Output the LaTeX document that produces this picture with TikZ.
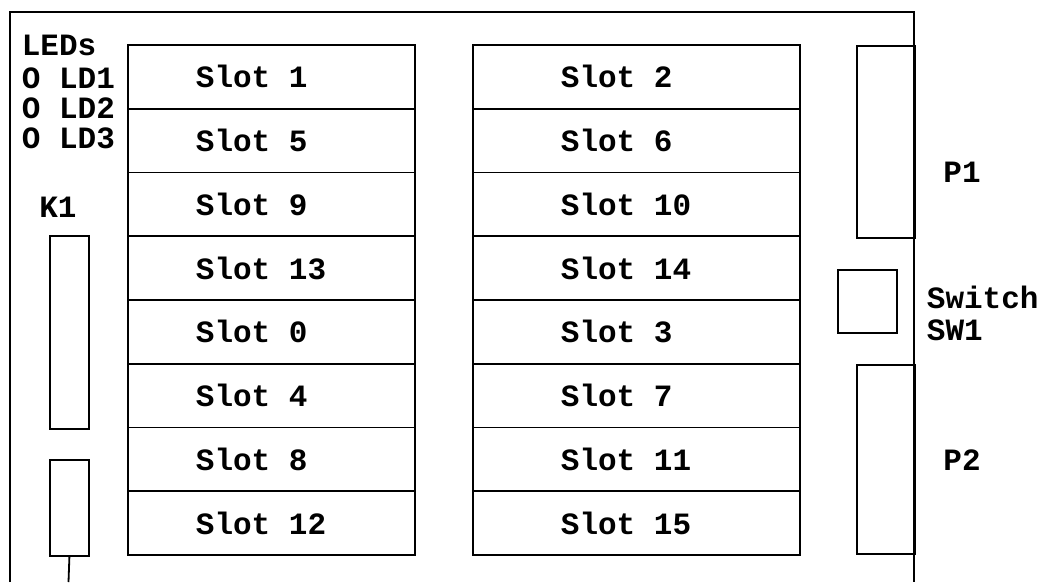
\documentclass[tikz,border=0pt]{standalone}
\usepackage{fontspec}
\setmonofont{Liberation Mono}
\newcommand{\slottxt}[1]{\makebox[151pt][l]{#1}}
\begin{document}
\begin{tikzpicture}[x=1pt,y=-1pt,
  line width=1.8pt,
  lbl/.style={font=\ttfamily\bfseries\fontsize{31}{34}\selectfont, inner sep=0pt},
  slotbox/.style={draw, rectangle, anchor=north west, minimum height=63.75pt, inner ysep=0pt,
     font=\ttfamily\bfseries\fontsize{31}{34}\selectfont},
  lslot/.style={slotbox, inner xsep=68pt},
  rslot/.style={slotbox, inner xsep=88pt},
  part/.style={draw, rectangle, anchor=north west, inner sep=0pt}
]
\useasboundingbox (0,0) rectangle (1043,582);
\fill[white] (0,0) rectangle (1043,582);
% board outline
\draw (10,582) -- (10,12) -- (914,12) -- (914,582);
% LEDs
\node[lbl, anchor=west] (leds) at (21,45) {LEDs};
\node[lbl, anchor=west] (ld1) at (21,78) {O LD1};
\node[lbl, anchor=west] (ld2) at (21,108) {O LD2};
\node[lbl, anchor=west] (ld3) at (21,138) {O LD3};
% K1
\node[lbl] (k1) at (58,207) {K1};
\node[part, minimum width=39pt, minimum height=193pt] (k1a) at (49,235) {};
\node[part, minimum width=39pt, minimum height=96pt] (k1b) at (49,459) {};
\coordinate (k1end) at (68.5,582);
\draw (k1b.south) -- (k1end);
% slots left column
\foreach \n [count=\i from 0] in {1,5,9,13,0,4,8,12}{
  \node[lslot] (sl\i) at (127,44+63.75*\i) {\slottxt{Slot \n}};
}
% slots right column
\foreach \n [count=\i from 0] in {2,6,10,14,3,7,11,15}{
  \node[rslot] (sr\i) at (472,44+63.75*\i) {\slottxt{Slot \n}};
}
% connectors P1, P2, switch
\node[part, minimum width=58pt, minimum height=192pt] (p1) at (856,45) {};
\node[part, minimum width=58pt, minimum height=189pt] (p2) at (856,364) {};
\node[part, minimum width=59pt, minimum height=63pt] (sw) at (837,269) {};
\node[lbl] (p1l) at (962,172) {P1};
\node[lbl] (p2l) at (962,460) {P2};
\node[lbl, anchor=west] (swl) at (926,297) {Switch};
\node[lbl, anchor=west] (sw1l) at (926,330) {SW1};
\end{tikzpicture}
\end{document}
